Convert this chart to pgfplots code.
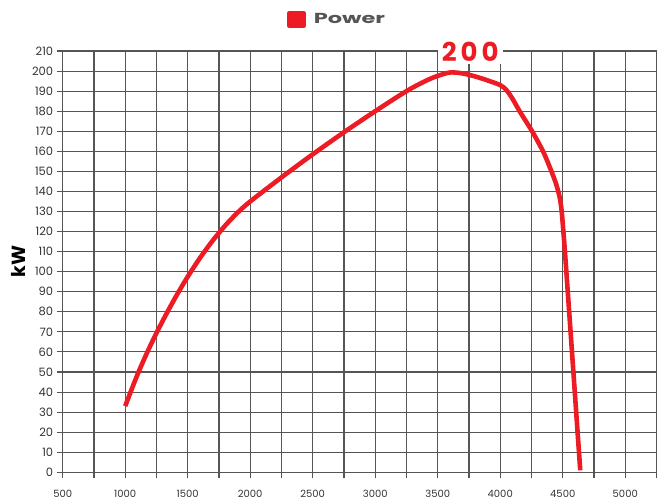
\documentclass[border=0pt]{standalone}
\usepackage{fontspec}
\setmainfont{Poppins}
\usepackage{pgfplots}
\pgfplotsset{compat=1.18}
\definecolor{pwred}{HTML}{ED1C24}
\definecolor{gridc}{HTML}{555555}
\definecolor{txt}{HTML}{333333}
\definecolor{legc}{HTML}{555555}
\begin{document}
\begin{tikzpicture}
\begin{axis}[
    scale only axis,
    width=593.8pt, height=421.3pt,
    xmin=500, xmax=5250, ymin=0, ymax=210,
    xtick={500,1000,...,5000},
    minor xtick={750,1250,...,5250},
    ytick={0,10,...,210},
    grid=both,
    major grid style={gridc, line width=1.1pt},
    minor grid style={gridc, line width=1.1pt},
    axis line style={gridc, line width=1.1pt},
    tick style={gridc, line width=1.1pt},
    tick align=outside,
    tick pos=left,
    major tick length=6pt, minor tick length=6pt,
    /pgf/number format/1000 sep={},
    /pgf/number format/assume math mode=true,
    xticklabel style={font=\fontsize{10}{10}\selectfont, text=txt, yshift=-8pt},
    yticklabel style={font=\fontsize{11.5}{12}\selectfont, text=txt},
    clip=false,
    legend style={at={(axis description cs:0.3777,1.0748)}, anchor=west,
        draw=none, fill=none, inner sep=0pt, column sep=8pt,
        nodes={inner sep=0pt},
        font=\fontsize{14.5}{15}\selectfont\bfseries\addfontfeatures{FakeStretch=1.55},
        text=legc},
    legend image code/.code={\fill[pwred] (0pt,-6.5pt) rectangle (14pt,6.5pt);},
]
\addplot[pwred, line width=4.6pt, line join=round, smooth, tension=0.5]
coordinates {
(1000,33) (1100,49) (1200,63) (1300,75.5) (1400,87) (1500,97.5)
(1600,107) (1700,115.5) (1800,123) (1900,129.5) (2000,135)
(2250,147) (2500,158.5) (2750,169.5) (3000,180) (3250,190)
(3400,195) (3500,197.6) (3600,199.3) (3700,198.8) (3800,197.3)
(3900,195.3) (4000,193) (4050,190.5) (4100,186) (4150,180.5)
(4200,175.5) (4250,170.5) (4300,165) (4350,159) (4400,151.5)
(4440,145) (4462,140.5) (4477,136.5) (4490,131) (4505,120)
(4530,99) (4640,1)
};
\legend{Power}
\coordinate (O) at (axis cs:500,0);
\node[fill=white, inner xsep=4pt, inner ysep=2pt, text=pwred,
      font=\fontsize{26}{26}\selectfont\bfseries\addfontfeatures{LetterSpace=15}]
      at (axis cs:3760,209.4) {200};
\node[rotate=90, font=\fontsize{19}{19}\selectfont\bfseries, text=black]
      at (axis description cs:-0.0741,0.5) {kW};
\end{axis}
\path (O) ++(-62.7pt,-26.7pt) rectangle ++(658pt,499pt);
\end{tikzpicture}
\end{document}
